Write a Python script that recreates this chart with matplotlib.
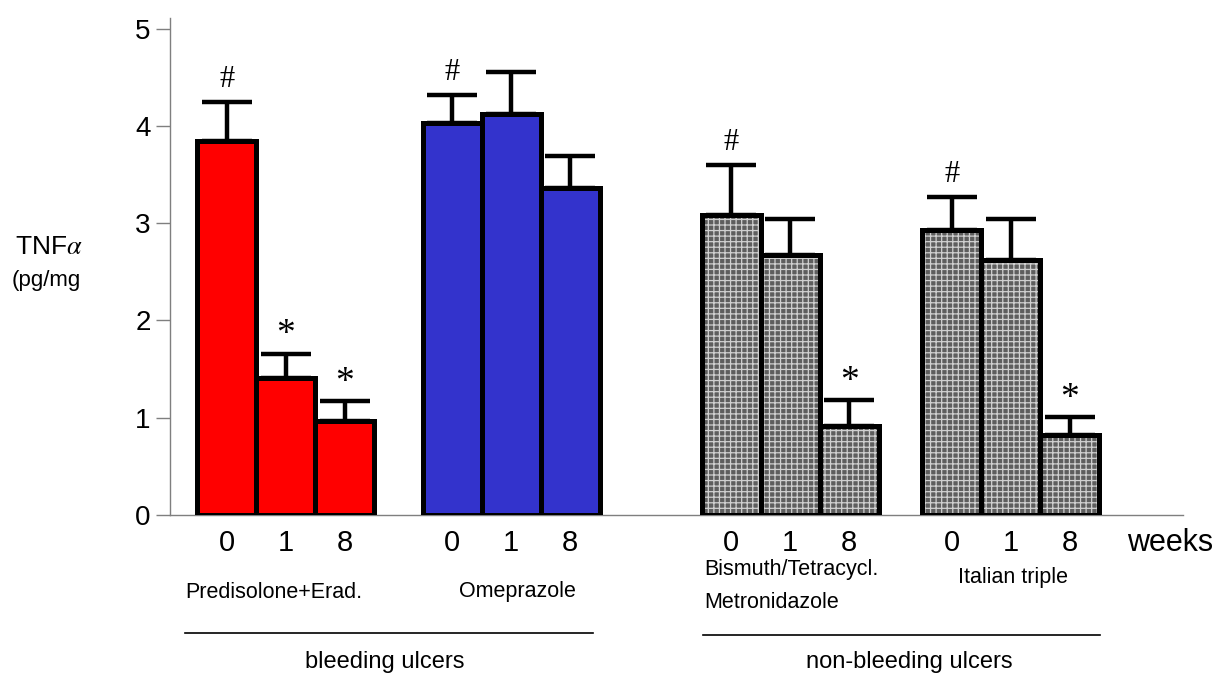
import matplotlib
matplotlib.use("Agg")
import matplotlib.pyplot as plt
import matplotlib.transforms as mtransforms
import numpy as np

plt.rcParams['font.family'] = ['Liberation Sans', 'DejaVu Sans']
plt.rcParams['mathtext.fontset'] = 'stix'
plt.rcParams['hatch.linewidth'] = 0.9

# ---- data ----
weeks = ["0", "1", "8"]
groups = ["Predisolone+Erad.", "Omeprazole", "Bismuth/Tetracycl.\nMetronidazole", "Italian triple"]
means = [
    [3.85, 1.41, 0.97],
    [4.03, 4.12, 3.36],
    [3.08, 2.67, 0.91],
    [2.93, 2.62, 0.82],
]
upper_err = [
    [0.40, 0.25, 0.20],
    [0.29, 0.43, 0.33],
    [0.52, 0.37, 0.27],
    [0.34, 0.42, 0.19],
]
marks = [
    ["#", "*", "*"],
    ["#", "", ""],
    ["#", "", "*"],
    ["#", "", "*"],
]
categories = ["bleeding ulcers", "non-bleeding ulcers"]

# ---- layout ----
W, H = 1218, 677
fig = plt.figure(figsize=(W / 100, H / 100), dpi=100)
ax = fig.add_axes([170 / W, 1 - 515 / H, (1183 - 170) / W, (515 - 18) / H])

group_centers = [1.966, 5.78, 10.51, 14.25]
bw = 1.0
offsets = [-1, 0, 1]
facecolors = ["#ff0000", "#3333cc", "#9a9a9a", "#9a9a9a"]
hatched = [False, False, True, True]

for gi, gc in enumerate(group_centers):
    xs = [gc + o * bw for o in offsets]
    m = means[gi]
    e = upper_err[gi]
    ax.errorbar(xs, m, yerr=[np.zeros(3), e], fmt='none', ecolor='black',
                elinewidth=3.2, capsize=18, capthick=3.2, zorder=1)
    if hatched[gi]:
        ax.bar(xs, m, width=bw, color="#5e5e5e", edgecolor="#d0d0d0",
               hatch="+++", linewidth=0, zorder=2)
        ax.bar(xs, m, width=bw, fill=False, edgecolor="black", linewidth=3.6, zorder=3)
    else:
        ax.bar(xs, m, width=bw, color=facecolors[gi], edgecolor="black",
               linewidth=3.6, zorder=3)
    for xi, mi, ei, mk in zip(xs, m, e, marks[gi]):
        if mk == "#":
            ax.text(xi, mi + ei + 0.23, mk, ha='center', va='center', fontsize=22,
                    family=['Liberation Serif', 'DejaVu Serif'], zorder=4)
        elif mk == "*":
            ax.text(xi, mi + ei + 0.19, mk, ha='center', va='center', fontsize=27,
                    family=['Liberation Serif', 'DejaVu Serif'], zorder=4)

ax.set_xlim(0, 17.17)
ax.set_ylim(0, 5.11)
ax.set_yticks([0, 1, 2, 3, 4, 5])
ax.set_yticklabels(["0", "1", "2", "3", "4", "5"], fontsize=20)
ax.set_xticks([])
for s in ["top", "right"]:
    ax.spines[s].set_visible(False)
for s in ["left", "bottom"]:
    ax.spines[s].set_color("#7f7f7f")
    ax.spines[s].set_linewidth(1.0)
ax.tick_params(axis='y', direction='out', length=10, width=1.0, color="#7f7f7f", pad=4)

trans = mtransforms.blended_transform_factory(ax.transData, fig.transFigure)
def fy(p):
    return 1 - p / H

# week labels
for gi, gc in enumerate(group_centers):
    for o, wk in zip(offsets, weeks):
        ax.text(gc + o * bw, fy(543), wk, transform=trans, ha='center', va='center',
                fontsize=21)
fig.text(1127 / W, fy(543), "weeks", ha='left', va='center', fontsize=22)

# group labels
fig.text(185 / W, fy(592), groups[0], ha='left', va='center', fontsize=15.5)
fig.text(517 / W, fy(592), groups[1], ha='center', va='center', fontsize=15.5)
for li, line in enumerate(groups[2].split("\n")):
    fig.text(704 / W, fy(569 + 34 * li), line, ha='left', va='center', fontsize=15.5)
fig.text(1013 / W, fy(578), groups[3], ha='center', va='center', fontsize=15.5)

# category lines and labels
fig.add_artist(plt.Line2D([185 / W, 593 / W], [fy(633), fy(633)], color='black', lw=1.2))
fig.add_artist(plt.Line2D([703 / W, 1100 / W], [fy(635), fy(635)], color='black', lw=1.2))
fig.text(385 / W, fy(662), categories[0], ha='center', va='center', fontsize=17)
fig.text(909 / W, fy(662), categories[1], ha='center', va='center', fontsize=17)

# y label
fig.text(15 / W, fy(247), r"TNF$\alpha$", ha='left', va='center', fontsize=19)
fig.text(12 / W, fy(280), "(pg/mg", ha='left', va='center', fontsize=16)

fig.savefig("out.png", dpi=100)
